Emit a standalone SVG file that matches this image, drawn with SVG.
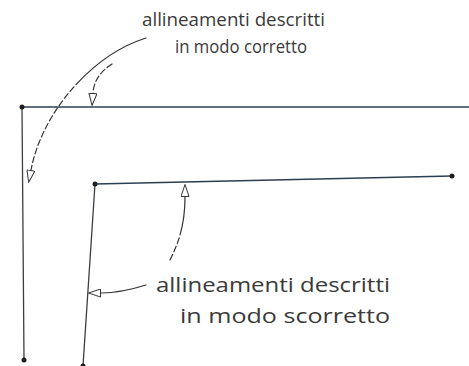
<svg xmlns="http://www.w3.org/2000/svg" width="469" height="366" viewBox="0 0 469 366">
<defs>
<style>
.bg{fill:#ffffff}
.line{stroke:#3a3f46;stroke-width:1.3;fill:none;stroke-linecap:round}
.hline{stroke:#2c3e50;stroke-width:1.5;fill:none}
.dot{fill:#1e1e1e}
.lead{stroke:#333;stroke-width:1.2;fill:none;stroke-linecap:round}
.lbl{font-family:"Open Sans","DejaVu Sans",sans-serif;font-size:19px;fill:#3a3a3a}
.lbl2{font-family:"Open Sans","DejaVu Sans",sans-serif;font-size:20px;fill:#3a3a3a}
</style>
<marker id="ah" viewBox="0 0 13 9" refX="0" refY="4.5" markerWidth="13" markerHeight="9" markerUnits="userSpaceOnUse" orient="auto">
<path d="M0.5,0.5 L12.5,4.5 L0.5,8.5 Z" fill="#fff" stroke="#333" stroke-width="1"/>
</marker>
</defs>
<rect class="bg" x="0" y="0" width="469" height="366"/>
<g id="correct-alignment">
<line class="hline" x1="22" y1="107" x2="469" y2="107"/>
<line class="line" x1="22" y1="107" x2="24" y2="360"/>
<circle class="dot" cx="22" cy="107" r="2.5"/>
<circle class="dot" cx="24" cy="360" r="2.5"/>
</g>
<g id="incorrect-alignment">
<line class="hline" x1="95" y1="184" x2="452" y2="176"/>
<line class="line" x1="95" y1="184" x2="83" y2="366"/>
<circle class="dot" cx="95" cy="184" r="2.5"/>
<circle class="dot" cx="452" cy="176" r="2.5"/>
<circle class="dot" cx="83" cy="366" r="2.5"/>
</g>
<g id="label-correct">
<text class="lbl" x="142" y="26" textLength="183" lengthAdjust="spacingAndGlyphs">allineamenti descritti</text>
<text class="lbl" x="175" y="53" textLength="132" lengthAdjust="spacingAndGlyphs">in modo corretto</text>
</g>
<g id="label-incorrect">
<text class="lbl2" x="156" y="292" textLength="234" lengthAdjust="spacingAndGlyphs">allineamenti descritti</text>
<text class="lbl2" x="180" y="323" textLength="210" lengthAdjust="spacingAndGlyphs">in modo scorretto</text>
</g>
<g id="connectors">
<path class="lead" d="M146,38 C92,55 42,112 31,170" stroke-dasharray="85 3 6 3 6 3 6 3 6 3 6 3 6 3 6 3 6 3 6 3 6 3 6 3" marker-end="url(#ah)"/>
<path class="lead" d="M112,64 C101,71 94,80 93,93" stroke-dasharray="6 3" marker-end="url(#ah)"/>
<path class="lead" d="M170,260 C180,240 185,222 185,197" stroke-dasharray="6 3 6 3 6 3 40" marker-end="url(#ah)"/>
<path class="lead" d="M146,285 C130,290 116,293 101,293" marker-end="url(#ah)"/>
</g>
</svg>
